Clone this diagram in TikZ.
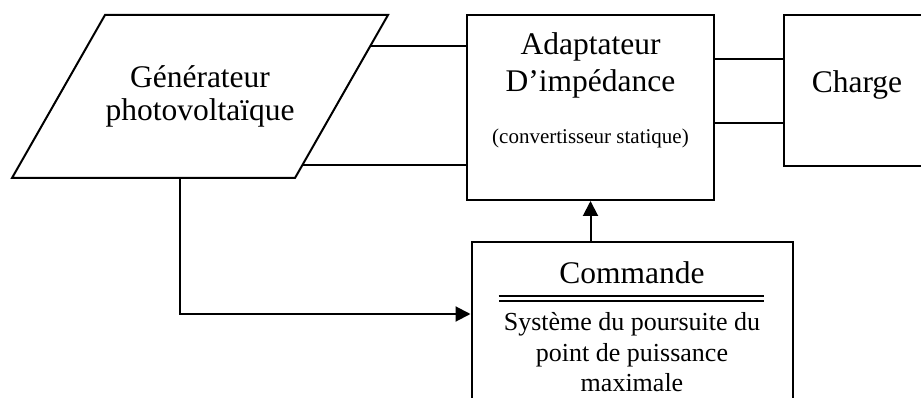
\documentclass[tikz,border=0pt]{standalone}
\usepackage{fontspec}
\setmainfont{Liberation Serif}
\usetikzlibrary{calc, arrows.meta}

\begin{document}
\begin{tikzpicture}[x=1pt, y=-1pt,
    box/.style={draw, line width=2pt, inner sep=0pt},
    wire/.style={line width=2pt},
    big/.style={font=\fontsize{31.5}{33}\selectfont},
    small/.style={font=\fontsize{21}{24}\selectfont},
    body/.style={font=\fontsize{26}{31}\selectfont},
    >={Triangle[length=15pt,width=15pt]}]
  \useasboundingbox (0,0) rectangle (921,398);
  \clip (0,0) rectangle (921,398);
  % generateur (parallelogramme)
  \coordinate (gtl) at (105,15);
  \coordinate (gtr) at (388,15);
  \coordinate (gbr) at (295,178);
  \coordinate (gbl) at (12,178);
  \draw[wire, line join=miter] (gtl) -- (gtr) -- (gbr) -- (gbl) -- cycle;
  \node[align=center, big] (gen) at (200,96.5) {Générateur\\photovoltaïque};
  % blocs
  \node[box, minimum width=247pt, minimum height=185pt] (adapt) at (590.5,107.5) {};
  \node[big, anchor=base] (adapt1) at (590.5,55) {Adaptateur};
  \node[big, anchor=base] (adapt2) at (590.5,92) {D’impédance};
  \node[small, anchor=base] (adapt3) at (590.5,144) {(convertisseur statique)};
  \node[box, minimum width=142pt, minimum height=151pt] (charge) at (855,90.5) {};
  \node[big, anchor=base] (charge1) at (857,93) {Charge};
  \node[box, minimum width=321pt, minimum height=178pt] (com) at (632,331) {};
  \node[big, anchor=base] (com1) at (632,283) {Commande};
  \draw[line width=1.5pt, double, double distance=3.5pt]
    ([xshift=28pt, yshift=-57.5pt]com.north west) -- ([xshift=-30pt, yshift=-57.5pt]com.north east);
  \node[body, anchor=base] (com2) at (632,330) {Système du poursuite du};
  \node[body, anchor=base] (com3) at (632,361.5) {point de puissance};
  \node[body, anchor=base] (com4) at (632,391.5) {maximale};
  % liaisons
  \draw[wire] ($(gtr)!0.19!(gbr)$) coordinate (g1) -- (g1 -| adapt.west);
  \draw[wire] ($(gtr)!0.92!(gbr)$) coordinate (g2) -- (g2 -| adapt.west);
  \draw[wire] ($(adapt.north east)!0.238!(adapt.south east)$) coordinate (c1) -- (c1 -| charge.west);
  \draw[wire] ($(adapt.north east)!0.584!(adapt.south east)$) coordinate (c2) -- (c2 -| charge.west);
  \draw[wire, ->] (com.north -| adapt.south) -- (adapt.south);
  \draw[wire, ->] ($(gbl)!0.594!(gbr)$) |- ([yshift=17pt]com.west);
\end{tikzpicture}
\end{document}
